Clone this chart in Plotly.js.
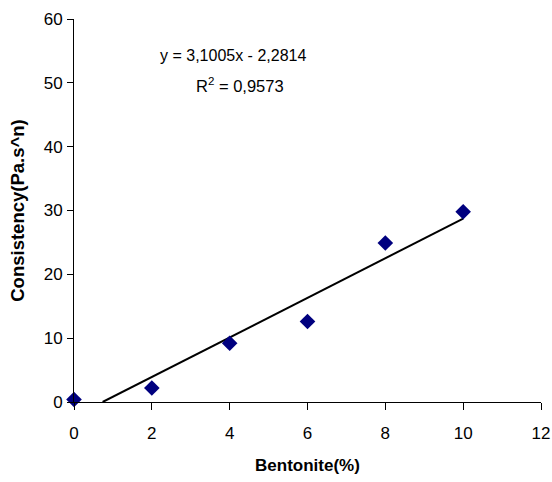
<!DOCTYPE html>
<html><head><meta charset="utf-8">
<script src="https://cdn.plot.ly/plotly-3.0.1.min.js"></script>
<style>body{margin:0;background:#fff}#c{width:552px;height:482px}</style>
</head><body><div id="c"></div>
<script>
const bentonite = [0, 2, 4, 6, 8, 10];
const consistency = [0.4, 2.2, 9.2, 12.6, 24.9, 29.8];
const slope = 3.1005;
const intercept = -2.2814;
const trendX = [-intercept / slope, 10];
const trendY = trendX.map(x => slope * x + intercept);
const eqText = "y = 3,1005x - 2,2814";
const r2Text = "R<sup>2</sup> = 0,9573";

const data = [
  {x: trendX, y: trendY, mode: 'lines', type: 'scatter',
   line: {color: '#000000', width: 2}, hoverinfo: 'skip'},
  {x: bentonite, y: consistency, mode: 'markers', type: 'scatter',
   marker: {symbol: 'diamond', size: 12, color: '#00007f'}, cliponaxis: false}
];
const layout = {
  width: 552, height: 482,
  margin: {l: 74, r: 11, t: 19, b: 80},
  paper_bgcolor: '#fff', plot_bgcolor: '#fff',
  showlegend: false,
  font: {family: 'Arial, Liberation Sans, sans-serif', size: 17, color: '#000'},
  xaxis: {range: [0, 12], tickvals: [0,2,4,6,8,10,12], showgrid: false, zeroline: false,
    showline: true, linecolor: '#000', linewidth: 1, ticks: 'outside', ticklen: 7, tickcolor: '#000',
    ticklabelstandoff: 9, tickfont: {size: 17},
    title: {text: '<b>Bentonite(%)</b>', font: {size: 17}, standoff: 16}},
  yaxis: {range: [0, 60], tickvals: [0,10,20,30,40,50,60], showgrid: false, zeroline: false,
    showline: true, linecolor: '#000', linewidth: 1, ticks: 'outside', ticklen: 6, tickcolor: '#000',
    ticklabelstandoff: 1, tickfont: {size: 17},
    title: {text: '<b>Consistency(Pa.s^n)</b>', font: {size: 18.5}, standoff: 14}},
  annotations: [
    {xref: 'paper', yref: 'paper', x: (233-74)/467, y: (402-55)/383, text: eqText, showarrow: false,
     font: {size: 16}, xanchor: 'center', yanchor: 'middle'},
    {xref: 'paper', yref: 'paper', x: (240-74)/467, y: (402-85)/383, text: r2Text, showarrow: false,
     font: {size: 16.5}, xanchor: 'center', yanchor: 'middle'}
  ]
};
Plotly.newPlot('c', data, layout, {displayModeBar: false, staticPlot: true});
</script></body></html>
